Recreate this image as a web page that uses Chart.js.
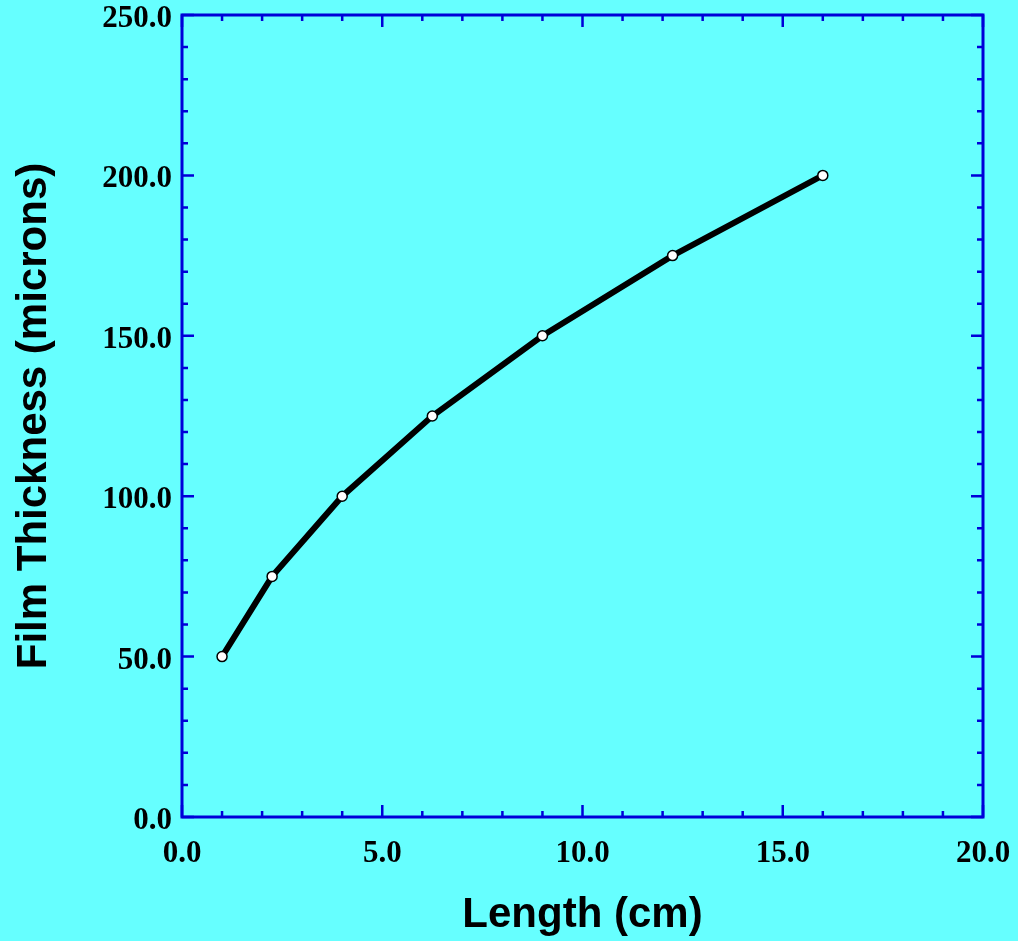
<!DOCTYPE html>
<html>
<head>
<meta charset="utf-8">
<script src="https://cdn.jsdelivr.net/npm/chart.js@4/dist/chart.umd.min.js"></script>
<style>
  html, body { margin: 0; padding: 0; background: #66ffff; }
  #wrap { width: 1018px; height: 941px; }
</style>
</head>
<body>
<div id="wrap"><canvas id="filmChart"></canvas></div>
<script>
// Data
const lengths = [1.0, 2.25, 4.0, 6.25, 9.0, 12.25, 16.0];
const thickness = [50, 75, 100, 125, 150, 175, 200];

const axisBlue = '#0000d8';

// Inward ticks on all four sides plus the frame
const frameTicks = {
  id: 'frameTicks',
  beforeDatasetsDraw(chart) {
    const { ctx, chartArea: a, scales: { x, y } } = chart;
    ctx.save();
    ctx.strokeStyle = axisBlue;
    ctx.lineWidth = 2.5;
    ctx.beginPath();
    for (let v = 0; v <= 20; v += 1) {
      const px = x.getPixelForValue(v);
      const len = v % 5 === 0 ? 12 : 6;
      ctx.moveTo(px, a.bottom); ctx.lineTo(px, a.bottom - len);
      ctx.moveTo(px, a.top); ctx.lineTo(px, a.top + len);
    }
    for (let v = 0; v <= 250; v += 10) {
      const py = y.getPixelForValue(v);
      const len = v % 50 === 0 ? 12 : 6;
      ctx.moveTo(a.left, py); ctx.lineTo(a.left + len, py);
      ctx.moveTo(a.right, py); ctx.lineTo(a.right - len, py);
    }
    ctx.stroke();
    ctx.lineWidth = 3;
    ctx.strokeRect(a.left, a.top, a.right - a.left, a.bottom - a.top);
    ctx.restore();
  }
};

const tickFont = { family: 'Liberation Serif', weight: 'bold', size: 31 };
const titleFont = { family: 'Liberation Sans', weight: 'bold', size: 42 };

new Chart(document.getElementById('filmChart'), {
  type: 'scatter',
  data: {
    datasets: [{
      data: lengths.map((l, i) => ({ x: l, y: thickness[i] })),
      showLine: true,
      borderColor: '#000000',
      borderWidth: 6,
      pointRadius: 5,
      pointBackgroundColor: '#ffffff',
      pointBorderColor: '#000000',
      pointBorderWidth: 1.5
    }]
  },
  options: {
    responsive: true,
    maintainAspectRatio: false,
    animation: false,
    layout: { padding: { top: 15, right: 35, left: 0, bottom: 0 } },
    plugins: { legend: { display: false }, tooltip: { enabled: false } },
    scales: {
      x: {
        type: 'linear',
        min: 0, max: 20,
        grid: { display: false, drawTicks: false },
        border: { display: false },
        ticks: {
          stepSize: 5, padding: 18, color: '#000', font: tickFont,
          maxRotation: 0,
          callback: v => v.toFixed(1)
        },
        title: {
          display: true, text: 'Length (cm)', color: '#000',
          font: titleFont, padding: { top: 0, bottom: 0 }
        },
        afterFit(scale) {
          scale.height = 124;
          scale.paddingLeft = 0;
          scale.paddingRight = 0;
        }
      },
      y: {
        type: 'linear',
        min: 0, max: 250,
        grid: { display: false, drawTicks: false },
        border: { display: false },
        ticks: {
          stepSize: 50, padding: 10, labelOffset: 4, color: '#000', font: tickFont,
          callback: v => v.toFixed(1)
        },
        title: {
          display: true, text: 'Film Thickness (microns)', color: '#000',
          font: titleFont, padding: { top: 9, bottom: 0 }
        },
        afterFit(scale) {
          scale.width = 182;
          scale.paddingTop = 0;
          scale.paddingBottom = 0;
        }
      }
    }
  },
  plugins: [frameTicks]
});
</script>
</body>
</html>
